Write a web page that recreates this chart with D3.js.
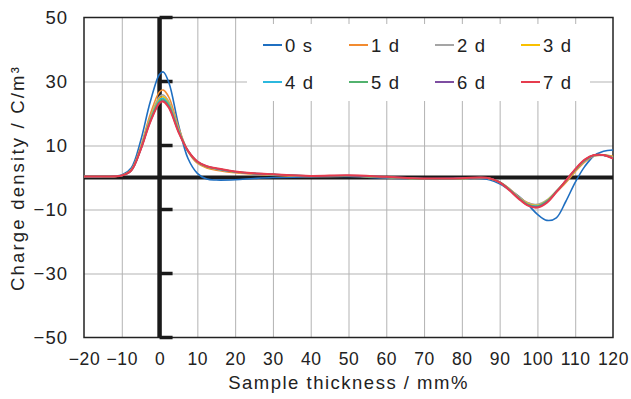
<!DOCTYPE html>
<html>
<head>
<meta charset="utf-8">
<script src="https://cdn.jsdelivr.net/npm/d3@7"></script>
<style>
  html, body { margin: 0; padding: 0; background: #fff; }
  svg text { font-family: "Liberation Sans", Arial, sans-serif; fill: #222; }
</style>
</head>
<body>
<div id="chart"></div>
<script>
// x positions (mm%)
const thickness = [-20, -15, -10, -7.5, -5, -2.5, 0, 1, 2.5, 5, 7.5, 10, 12.5, 15, 20, 25, 30, 40, 50, 60, 70, 80, 85, 87.5, 90, 92.5, 95, 97.5, 100, 102.5, 105, 107.5, 110, 112.5, 115, 117.5, 120];

// charge density per elapsed time (C/m3)
const d0s = [0.3, 0.3, 0.8, 3.0, 11.5, 23.5, 32.3, 33.0, 29.5, 16.5, 6.0, 1.3, -0.5, -0.8, -0.7, -0.3, 0.0, 0.2, 0.3, -0.2, -0.5, -0.3, -0.3, -0.8, -2.0, -3.8, -5.8, -8.5, -11.5, -13.4, -12.6, -7.5, -1.5, 3.4, 6.8, 8.2, 8.6];
const d1 = [0.3, 0.3, 0.6, 2.4, 9.6, 19.6, 26.8, 27.3, 25.0, 15.8, 8.2, 4.5, 3.0, 2.3, 1.5, 1.0, 0.7, 0.3, 0.4, 0.0, -0.5, -0.4, -0.1, -0.4, -1.4, -3.4, -6.0, -7.9, -8.6, -7.4, -4.6, -1.6, 1.8, 4.8, 6.7, 7.0, 6.6];
const d2 = [0.3, 0.3, 0.6, 2.3, 9.3, 18.7, 25.3, 25.8, 23.6, 15.2, 8.3, 4.8, 3.3, 2.6, 1.7, 1.2, 0.9, 0.4, 0.5, 0.1, -0.4, -0.3, -0.1, -0.4, -1.4, -3.5, -6.1, -8.0, -8.4, -7.0, -4.2, -1.2, 2.2, 5.1, 6.8, 6.9, 6.3];
const d3d = [0.3, 0.3, 0.6, 2.3, 9.1, 18.3, 24.7, 25.2, 23.1, 15.0, 8.3, 4.8, 3.3, 2.7, 1.7, 1.2, 0.9, 0.4, 0.5, 0.1, -0.4, -0.3, -0.1, -0.4, -1.5, -3.6, -6.2, -8.2, -8.7, -7.2, -4.3, -1.2, 2.2, 5.2, 6.9, 7.0, 6.4];
const d4 = [0.3, 0.3, 0.6, 2.2, 8.9, 17.9, 24.2, 24.7, 22.7, 14.8, 8.3, 4.9, 3.4, 2.7, 1.8, 1.2, 0.9, 0.4, 0.5, 0.1, -0.4, -0.3, -0.1, -0.4, -1.5, -3.7, -6.3, -8.4, -8.9, -7.4, -4.4, -1.1, 2.4, 5.3, 6.9, 7.0, 6.2];
const d5 = [0.3, 0.3, 0.6, 2.2, 8.8, 17.6, 23.8, 24.3, 22.3, 14.5, 8.3, 4.9, 3.4, 2.8, 1.8, 1.3, 1.0, 0.5, 0.5, 0.1, -0.4, -0.3, 0.0, -0.3, -1.5, -3.7, -6.4, -8.5, -9.0, -7.5, -4.4, -1.1, 2.4, 5.4, 7.0, 7.0, 6.1];
const d6 = [0.3, 0.3, 0.6, 2.2, 8.7, 17.3, 23.4, 23.9, 21.9, 14.3, 8.4, 5.0, 3.5, 2.8, 1.8, 1.3, 1.0, 0.5, 0.6, 0.2, -0.3, -0.2, 0.0, -0.3, -1.5, -3.8, -6.5, -8.7, -9.2, -7.7, -4.5, -1.0, 2.5, 5.5, 7.0, 7.0, 6.0];
const d7 = [0.3, 0.3, 0.6, 2.2, 8.7, 17.2, 23.3, 23.7, 21.7, 14.2, 8.4, 5.0, 3.5, 2.9, 1.9, 1.3, 1.0, 0.5, 0.7, 0.2, -0.3, -0.2, 0.0, -0.3, -1.5, -3.9, -6.6, -8.8, -9.4, -7.9, -4.6, -1.0, 2.6, 5.6, 7.0, 7.0, 5.9];

const seriesNames = ["0 s", "1 d", "2 d", "3 d", "4 d", "5 d", "6 d", "7 d"];
const seriesValues = [d0s, d1, d2, d3d, d4, d5, d6, d7];
const seriesColors = ["#1f6fc1", "#f28b30", "#a5a5a5", "#f9c000", "#2cb8de", "#52b26e", "#7e4ea1", "#e63c4e"];

const xTicks = [-20, -10, 0, 10, 20, 30, 40, 50, 60, 70, 80, 90, 100, 110, 120];
const yTicks = [50, 30, 10, -10, -30, -50];

const width = 631, height = 399;
const plot = { left: 84, right: 613, top: 17.5, bottom: 337.5 };

const svg = d3.select("#chart").append("svg")
  .attr("width", width)
  .attr("height", height);

const x = d3.scaleLinear().domain([-20, 120]).range([plot.left, plot.right]);
const y = d3.scaleLinear().domain([-50, 50]).range([plot.bottom, plot.top]);

const fmt = d => d < 0 ? "\u2212" + Math.abs(d) : String(d);

// grid
svg.append("g")
  .attr("transform", `translate(0,${plot.bottom})`)
  .call(d3.axisBottom(x).tickValues(xTicks.slice(1, -1)).tickSize(-(plot.bottom - plot.top)).tickFormat(""))
  .call(g => g.select(".domain").remove())
  .call(g => g.selectAll("line").attr("stroke", "#b3b3b3").attr("stroke-width", 1));

svg.append("g")
  .attr("transform", `translate(${plot.left},0)`)
  .call(d3.axisLeft(y).tickValues(yTicks.slice(1, -1)).tickSize(-(plot.right - plot.left)).tickFormat(""))
  .call(g => g.select(".domain").remove())
  .call(g => g.selectAll("line").attr("stroke", "#b3b3b3").attr("stroke-width", 1));

// legend background hides the grid
const legend = svg.append("g");
legend.append("rect")
  .attr("x", 247).attr("y", 24).attr("width", 343).attr("height", 77)
  .attr("fill", "#fff");

// frame
svg.append("rect")
  .attr("x", plot.left).attr("y", plot.top)
  .attr("width", plot.right - plot.left).attr("height", plot.bottom - plot.top)
  .attr("fill", "none").attr("stroke", "#222").attr("stroke-width", 1.5);

// zero axes
svg.append("line")
  .attr("x1", plot.left).attr("x2", plot.right)
  .attr("y1", y(0)).attr("y2", y(0))
  .attr("stroke", "#1a1a1a").attr("stroke-width", 4);
svg.append("line")
  .attr("x1", x(0)).attr("x2", x(0))
  .attr("y1", plot.top).attr("y2", plot.bottom)
  .attr("stroke", "#1a1a1a").attr("stroke-width", 4.5);

// tick marks on the vertical zero axis
svg.append("g")
  .selectAll("line")
  .data(yTicks)
  .join("line")
  .attr("x1", x(0)).attr("x2", x(0) + 13)
  .attr("y1", d => y(d)).attr("y2", d => y(d))
  .attr("stroke", "#1a1a1a").attr("stroke-width", 3.5);

// tick labels
svg.append("g")
  .attr("transform", `translate(0,${plot.bottom})`)
  .call(d3.axisBottom(x).tickValues(xTicks).tickSize(0).tickPadding(15).tickFormat(fmt))
  .call(g => g.select(".domain").remove())
  .call(g => g.selectAll("text")
    .attr("font-size", "17.5px")
    .attr("letter-spacing", "0.6px")
    .attr("fill", "#222")
    .style("font-family", "'Liberation Sans', Arial, sans-serif"));

svg.append("g")
  .attr("transform", `translate(${plot.left},0)`)
  .call(d3.axisLeft(y).tickValues(yTicks).tickSize(0).tickPadding(16).tickFormat(fmt))
  .call(g => g.select(".domain").remove())
  .call(g => g.selectAll("text")
    .attr("font-size", "18.5px")
    .attr("letter-spacing", "1px")
    .attr("fill", "#222")
    .style("font-family", "'Liberation Sans', Arial, sans-serif"));

// axis titles
svg.append("text")
  .attr("x", (plot.left + plot.right) / 2 + 0)
  .attr("y", 389)
  .attr("text-anchor", "middle")
  .attr("font-size", "18.5px")
  .attr("letter-spacing", "1.5px")
  .text("Sample thickness / mm%");

svg.append("text")
  .attr("transform", `translate(24,178) rotate(-90)`)
  .attr("text-anchor", "middle")
  .attr("font-size", "18.5px")
  .attr("letter-spacing", "2.2px")
  .text("Charge density / C/m\u00b3");

// curves
const line = d3.line()
  .x((d, i) => x(thickness[i]))
  .y(d => y(d))
  .curve(d3.curveCatmullRom.alpha(0.5));

svg.append("g")
  .selectAll("path")
  .data(seriesValues)
  .join("path")
  .attr("d", line)
  .attr("fill", "none")
  .attr("stroke", (d, i) => seriesColors[i])
  .attr("stroke-width", (d, i) => i === 7 ? 2 : 1.6);

// legend entries
const item = legend.selectAll("g.item")
  .data(seriesNames)
  .join("g")
  .attr("class", "item")
  .attr("transform", (d, i) => `translate(${263 + (i % 4) * 86},${i < 4 ? 45 : 82})`);

item.append("line")
  .attr("x1", 0).attr("x2", 19)
  .attr("stroke", (d, i) => seriesColors[i])
  .attr("stroke-width", 2);

item.append("text")
  .attr("x", 22)
  .attr("dy", "0.36em")
  .attr("font-size", "18.5px")
  .attr("letter-spacing", "1.2px")
  .text(d => d);
</script>
</body>
</html>
